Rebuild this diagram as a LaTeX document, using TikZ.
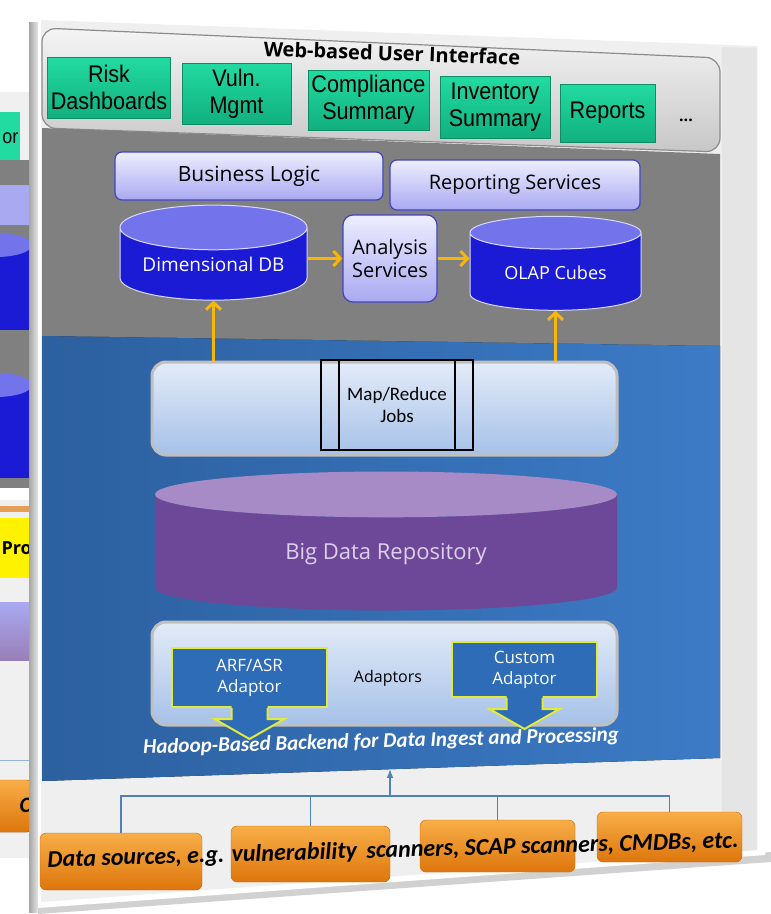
\documentclass[tikz,border=0pt]{standalone}
\usepackage{fontspec}
\setmainfont{Open Sans}
\newfontfamily\narrowfont[FakeStretch=0.9]{Liberation Sans}
\newfontfamily\calfont{Carlito}
\usepackage{xcolor}
\usepackage{tikz}
\usetikzlibrary{shapes, arrows.meta, calc, positioning}

\definecolor{slidegray}{HTML}{EFEFEF}
\definecolor{bandgray}{HTML}{808080}
\definecolor{hadooplight}{HTML}{3C7BC6}
\definecolor{hadoopdark}{HTML}{2C609F}
\definecolor{uigreen}{HTML}{22DBA0}
\definecolor{uigreendark}{HTML}{11B07E}
\definecolor{lavtop}{HTML}{EEEEFF}
\definecolor{lavbot}{HTML}{A9A9F2}
\definecolor{lavborder}{HTML}{4343C4}
\definecolor{dbblue}{HTML}{1B1BD6}
\definecolor{dbtop}{HTML}{7373EC}
\definecolor{flowyellow}{HTML}{F6B60A}
\definecolor{jobtop}{HTML}{E3EBF8}
\definecolor{jobbot}{HTML}{A6C1E8}
\definecolor{repobody}{HTML}{6E4898}
\definecolor{repotop}{HTML}{A78BC6}
\definecolor{repotext}{HTML}{DCD0EC}
\definecolor{adaptblue}{HTML}{2E6CB8}
\definecolor{adaptrim}{HTML}{E2EA3C}
\definecolor{srclight}{HTML}{F8AE48}
\definecolor{srcdark}{HTML}{DD760C}
\definecolor{srcwire}{HTML}{4F81BD}

\begin{document}
\begin{tikzpicture}[
    x=1pt, y=-1pt,
    >={Latex}
]
    % Styles for blocks
    \tikzstyle{uibox} = [rectangle, align=center, top color=uigreen, bottom color=uigreendark, draw=uigreendark!80!black, font=\narrowfont\fontsize{24}{27}\selectfont]
    \tikzstyle{svcbox} = [rectangle, rounded corners=7pt, align=center, top color=lavtop, bottom color=lavbot, draw=lavborder, line width=1.2pt]
    \tikzstyle{dbcyl} = [cylinder, shape border rotate=90, cylinder uses custom fill, cylinder body fill=dbblue, cylinder end fill=dbtop, draw=white!85!blue, line width=1pt, text=white]
    \tikzstyle{lightband} = [rectangle, rounded corners=14pt, top color=jobtop, bottom color=jobbot, draw=black!25, line width=3pt]
    \tikzstyle{adaptor} = [rectangle, align=center, fill=adaptblue, draw=adaptrim, line width=2pt, text=white, font=\fontsize{17}{21}\selectfont]
    \tikzstyle{srcbox} = [rectangle, rounded corners=6pt, top color=srclight, bottom color=srcdark, draw=srcdark!90!black]
    \tikzstyle{flow} = [draw=flowyellow, line width=3pt, -{Straight Barb[length=7pt, width=15pt]}]
    \tikzstyle{wire} = [draw=srcwire, line width=1.3pt]

    \useasboundingbox (0,0) rectangle (771,914);

    % Slide behind (left edge)
    \begin{scope}
        \clip (0,92) rectangle (37,858);
        \fill[black!6] (0,92) rectangle (37,858);
        \fill[bandgray] (0,160) rectangle (37,500);
        \fill[uigreen] (-40,112) rectangle (20,160);
        \node[anchor=east, font=\narrowfont\fontsize{20}{24}\selectfont] at (22,138) {or};
        \fill[lavbot] (-40,185) rectangle (30,225);
        \fill[dbblue] (-40,245) rectangle (32,330);
        \fill[dbtop] (-4,245) ellipse[x radius=36pt, y radius=12pt];
        \fill[dbblue] (-40,385) rectangle (32,478);
        \fill[dbtop] (-4,385) ellipse[x radius=36pt, y radius=12pt];
        \fill[white] (0,488) rectangle (37,500);
        \fill[srcdark!70] (0,506) rectangle (37,512);
        \fill[yellow] (-40,518) rectangle (33,578);
        \node[anchor=west, font=\bfseries\fontsize{18}{22}\selectfont] at (-2,548) {Pro};
        \fill[top color=lavbot, bottom color=repobody!70] (-40,602) rectangle (33,660);
        \draw[srcwire!60] (0,760) -- (37,760);
        \fill[srcbox] (-40,780) rectangle (33,832);
        \node[anchor=west, font=\calfont\bfseries\itshape\fontsize{22}{26}\selectfont] at (16,805) {C};
    \end{scope}

    % Page and slide
    \fill[left color=black!35, right color=black!10] (29,22) rectangle (38,912);
    \fill[black!18] (38,905) -- (771,852) -- (771,862) -- (38,914) -- cycle;
    \fill[white] (38,14) -- (765,40) -- (765,855) -- (38,908) -- cycle;
    \fill[slidegray] (41,20) -- (757,46) -- (757,850) -- (41,902) -- cycle;
    \fill[black!10] (722,47) -- (757,48) -- (757,850) -- (722,852) -- cycle;

    % Bands
    \draw[top color=black!4, bottom color=black!22, draw=black!45, line width=1.2pt, rounded corners=14pt]
        (42,28) -- (720,58) -- (720,152) -- (42,128) -- cycle;
    \fill[bandgray] (42,128) -- (720,154) -- (720,346) -- (42,336) -- cycle;
    \fill[left color=hadoopdark, right color=hadooplight] (42,336) -- (720,346) -- (720,758) -- (42,781) -- cycle;

    % Components

    % Web-based User Interface
    \node[font=\bfseries\fontsize{20}{23}\selectfont, rotate=-2] (UITitle) at (392,53) {Web-based User Interface};
    \node[uibox, minimum width=122pt, minimum height=61pt] (Risk) at (109,87.5) {Risk\\Dashboards};
    \node[uibox, minimum width=109pt, minimum height=61pt] (Vuln) at (236.5,93.5) {Vuln.\\Mgmt};
    \node[uibox, minimum width=113pt, minimum height=60pt] (Compliance) at (368.5,100) {Compliance\\Summary};
    \node[uibox, minimum width=110pt, minimum height=62pt] (Inventory) at (495,107) {Inventory\\Summary};
    \node[uibox, minimum width=95pt, minimum height=58pt] (Reports) at (607.5,113) {Reports};
    \node[font=\bfseries\fontsize{16}{20}\selectfont] (More) at (686,120) {...};

    % Business layer
    \node[svcbox, minimum width=268pt, minimum height=48pt, font=\fontsize{21}{25}\selectfont] (Business) at (249,176) {Business Logic};
    \node[svcbox, minimum width=250pt, minimum height=50pt, font=\fontsize{20}{24}\selectfont] (Reporting) at (515,185) {Reporting Services};
    \node[dbcyl, minimum width=187pt, minimum height=95pt, aspect=0.3, font=\fontsize{19}{23}\selectfont] (DimDB) at (213.5,267) {\raisebox{6pt}{Dimensional DB}};
    \node[svcbox, rounded corners=10pt, minimum width=94pt, minimum height=87pt, font=\fontsize{20}{23}\selectfont] (Analysis) at (390,258.5) {Analysis\\Services};
    \node[dbcyl, minimum width=171pt, minimum height=94pt, aspect=0.3, font=\fontsize{18}{22}\selectfont] (Olap) at (555.5,274) {\raisebox{3pt}{OLAP Cubes}};

    % Hadoop backend
    \node[lightband, minimum width=465pt, minimum height=93pt] (JobBand) at (384.5,408.5) {};
    \node[draw=black, line width=2pt, minimum width=152pt, minimum height=90pt, align=center, font=\calfont\fontsize{19}{22}\selectfont] (MRJobs) at (397,405) {Map/Reduce\\Jobs};
    \draw[line width=2pt] ($(MRJobs.north west)+(19,0)$) -- ($(MRJobs.south west)+(19,0)$);
    \draw[line width=2pt] ($(MRJobs.north east)+(-19,0)$) -- ($(MRJobs.south east)+(-19,0)$);

    \node[cylinder, shape border rotate=90, cylinder uses custom fill, cylinder body fill=repobody, cylinder end fill=repotop, minimum width=462pt, minimum height=139pt, aspect=0.22, text=repotext, font=\fontsize{22}{26}\selectfont] (BigData) at (386,554.5) {Big Data Repository};

    \node[lightband, minimum width=465pt, minimum height=103pt] (AdaptBand) at (384.5,673.5) {};
    \node[font=\fontsize{16}{20}\selectfont] (AdaptLabel) at (388,678) {Adaptors};
    \node[adaptor, minimum width=155pt, minimum height=59pt] (ArfAdaptor) at (249.5,677.5) {ARF/ASR\\Adaptor};
    \node[adaptor, minimum width=145pt, minimum height=55pt] (CustomAdaptor) at (524.5,669.5) {Custom\\Adaptor};
    \foreach \ad in {ArfAdaptor, CustomAdaptor} {
        \fill[adaptblue] ($(\ad.south)+(-18,-2)$) -- ($(\ad.south)+(-18,11)$) -- ($(\ad.south)+(-35,11)$) -- ($(\ad.south)+(0,31)$)
            -- ($(\ad.south)+(35,11)$) -- ($(\ad.south)+(18,11)$) -- ($(\ad.south)+(18,-2)$) -- cycle;
        \draw[adaptrim, line width=2pt, line join=miter] ($(\ad.south)+(-18,0)$) -- ($(\ad.south)+(-18,11)$) -- ($(\ad.south)+(-35,11)$)
            -- ($(\ad.south)+(0,31)$) -- ($(\ad.south)+(35,11)$) -- ($(\ad.south)+(18,11)$) -- ($(\ad.south)+(18,0)$);
    }

    \node[text=white, font=\calfont\bfseries\itshape\fontsize{21}{25}\selectfont, rotate=1.5] (Backend) at (381,742) {Hadoop-Based Backend for Data Ingest and Processing};
    \coordinate (backend_in) at (390,769);

    % Data sources
    \node[srcbox, minimum width=162pt, minimum height=57pt] (SrcA) at (121,861.5) {};
    \node[srcbox, minimum width=159pt, minimum height=56pt] (SrcB) at (310.5,854) {};
    \node[srcbox, minimum width=155pt, minimum height=52pt] (SrcC) at (497.5,846) {};
    \node[srcbox, minimum width=145pt, minimum height=50pt] (SrcD) at (669.5,837) {};
    \node[font=\calfont\bfseries\itshape\fontsize{24}{28}\selectfont, rotate=1.6] (SrcText) at (393,851) {Data sources, e.g. vulnerability\, scanners, SCAP scanners, CMDBs, etc.};

    % Connections
    \draw[flow] (Analysis.west -| DimDB.east) -- (Analysis.west);
    \draw[flow] (Analysis.east) -- (Analysis.east -| Olap.west);
    \draw[flow] (DimDB.south |- JobBand.north) -- (DimDB.south);
    \draw[flow] (Olap.south |- JobBand.north) -- (Olap.south);

    \coordinate (src_bus) at (390,796);
    \draw[wire] (SrcA.north) |- (src_bus);
    \draw[wire] (SrcB.north) |- (src_bus);
    \draw[wire] (SrcC.north) |- (src_bus);
    \draw[wire] (SrcD.north) |- (src_bus);
    \draw[wire, ->] (src_bus) -- (backend_in);

\end{tikzpicture}
\end{document}
